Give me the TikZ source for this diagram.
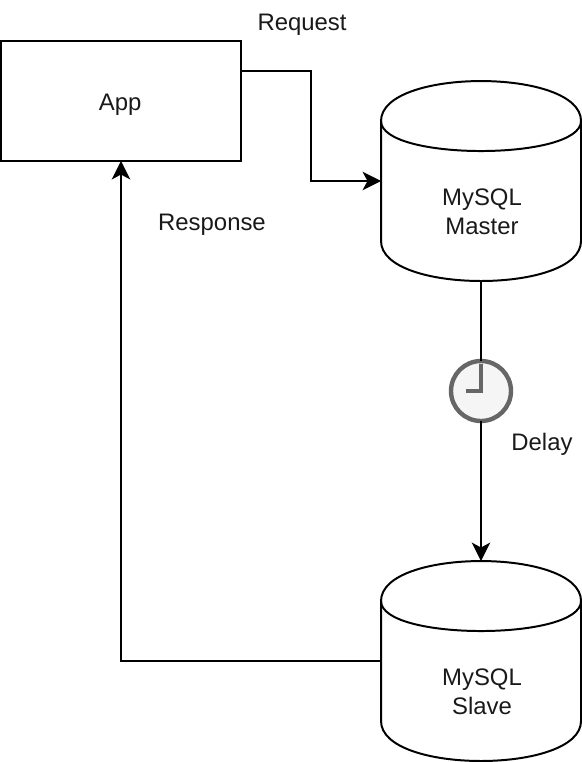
\documentclass[tikz,border=0pt]{standalone}
\usepackage{fontspec}
\setmainfont{Liberation Sans}
\usetikzlibrary{arrows.meta, calc}

\begin{document}
\begin{tikzpicture}[
    x=0.02cm, y=-0.02cm,
    line width=1.13pt,
    every node/.style={font=\fontsize{13.6}{16.4}\selectfont, align=center, text=black!90, outer sep=0pt},
    box/.style={draw, rectangle, minimum width=4.8cm, minimum height=2.4cm, inner sep=0pt, text height=11.3pt, text depth=0pt},
    dbnode/.style={rectangle, minimum width=4cm, minimum height=4cm, inner sep=0pt},
    clocknode/.style={draw=black!60, fill=black!4, circle, line width=2.5pt, minimum size=1.2cm, inner sep=0pt},
    hand/.style={draw=black!60, line width=2.5pt},
    arrow/.style={-{Stealth[length=10.5pt, width=10.5pt, inset=2.8pt]}},
    label/.style={inner sep=0pt}
]
    \useasboundingbox (0,0) rectangle (582,762);

    % Boxes
    \node[box] (app) at (121,101) {App\hspace{1pt}};
    \node[dbnode] (master) at (481,181) {};
    \node[dbnode] (slave) at (481,661) {};
    \node[clocknode] (clock) at (481,391) {};

    % Cylinders
    \foreach \db in {master, slave} {
        \begin{scope}[shift={(\db.north west)}]
            \draw (0,40) .. controls (0,-13.3) and (200,-13.3) .. (200,40) -- (200,160)
                .. controls (200,213.3) and (0,213.3) .. (0,160) -- cycle;
            \draw (0,40) .. controls (0,80) and (200,80) .. (200,40);
        \end{scope}
    }

    % Cylinder texts
    \node[label] (mastertext) at (482,212) {MySQL\\Master};
    \node[label] (slavetext) at (482,692) {MySQL\\Slave};

    % Clock hands
    \coordinate (handtop) at (481,364);
    \coordinate (handleft) at (466,391);
    \draw[hand] (handtop) -- (clock.center) -- (handleft);

    % Connectors
    \coordinate (reqstart) at (241,71);
    \coordinate (reqbend) at (311,71);
    \draw[arrow] (reqstart) -- (reqbend) |- (master.west);
    \draw[arrow] (slave.west) -| (app.south);
    \draw (master.south) -- (clock.north);
    \draw[arrow] (clock.south) -- (slave.north);

    % Edge texts
    \node[label] (request) at (302,24.5) {Request};
    \node[label] (response) at (212,224.5) {Response};
    \node[label] (delay) at (542,444.5) {Delay};

\end{tikzpicture}
\end{document}
